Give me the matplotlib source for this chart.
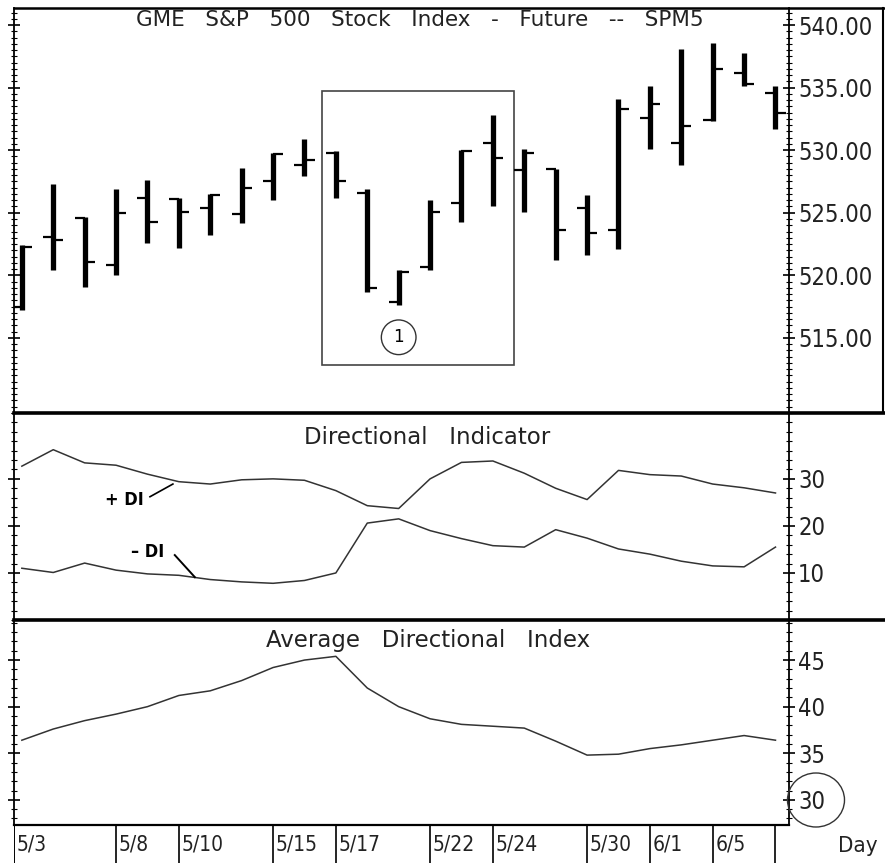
import matplotlib
matplotlib.use("Agg")
import matplotlib.pyplot as plt
from matplotlib.patches import Rectangle, Ellipse
from matplotlib.lines import Line2D
from matplotlib.ticker import MultipleLocator, FormatStrFormatter

# Data
opens = [517.5, 523.1, 524.6, 520.8, 526.2, 526.1, 525.4, 524.9, 527.5, 528.8,
         529.8, 526.6, 517.9, 520.7, 525.8, 530.6, 528.4, 528.5, 525.4, 523.6,
         532.6, 530.6, 532.4, 536.2, 534.6]
highs = [522.4, 527.3, 524.7, 526.9, 527.6, 526.2, 526.5, 528.6, 529.8, 530.9,
         529.9, 526.9, 520.4, 526.0, 530.0, 532.8, 530.1, 528.5, 526.4, 534.1,
         535.1, 538.1, 538.6, 537.8, 535.1]
lows = [517.2, 520.4, 519.05, 520.0, 522.6, 522.2, 523.2, 524.2, 526.0, 527.9,
        526.2, 518.7, 517.6, 520.4, 524.3, 525.5, 525.1, 521.2, 521.6, 522.1,
        530.1, 528.8, 532.3, 535.1, 531.7]
closes = [522.3, 522.8, 521.1, 525.0, 524.3, 525.1, 526.4, 527.0, 529.7, 529.2,
          527.5, 519.0, 520.3, 525.1, 529.9, 529.35, 529.8, 523.6, 523.4, 533.3,
          533.7, 531.9, 536.5, 535.3, 533.0]
plus_di = [32.7, 36.2, 33.4, 32.9, 31.0, 29.4, 28.9, 29.8, 30.0, 29.7,
           27.5, 24.3, 23.7, 30.0, 33.5, 33.8, 31.2, 28.0, 25.6, 31.8,
           30.9, 30.6, 28.9, 28.1, 27.0]
minus_di = [11.0, 10.1, 12.1, 10.6, 9.8, 9.5, 8.6, 8.1, 7.8, 8.4,
            10.0, 20.6, 21.5, 19.0, 17.3, 15.8, 15.5, 19.2, 17.4, 15.1,
            14.0, 12.5, 11.5, 11.3, 15.5]
adx = [36.4, 37.6, 38.5, 39.2, 40.0, 41.2, 41.7, 42.8, 44.2, 45.0,
       45.4, 42.0, 40.0, 38.7, 38.1, 37.9, 37.7, 36.3, 34.8, 34.9,
       35.5, 35.9, 36.4, 36.9, 36.4]
date_labels = ['5/3', '5/8', '5/10', '5/15', '5/17', '5/22', '5/24', '5/30', '6/1', '6/5']
date_pos = [0, 3, 5, 8, 10, 13, 15, 18, 20, 22]

# condensed face for the axis numbers and dates
cond = dict(family='DejaVu Sans', stretch='condensed')
plt.rcParams['font.family'] = ['DejaVu Sans']

W, H = 885, 863
fig = plt.figure(figsize=(8.85, 8.63), dpi=100)


def fx(px):
    return px / W


def fy(py):
    return 1 - py / H


left, right = 14, 789
ax1 = fig.add_axes([fx(left), fy(413), fx(right - left), fy(8) - fy(413)])
ax2 = fig.add_axes([fx(left), fy(620), fx(right - left), fy(413) - fy(620)], sharex=ax1)
ax3 = fig.add_axes([fx(left), fy(825), fx(right - left), fy(620) - fy(825)], sharex=ax1)
ax4 = fig.add_axes([fx(left), fy(863), fx(right - left), fy(825) - fy(863)], sharex=ax1)

x = list(range(len(closes)))
xmin, xmax = -0.25, 24.43

# price bars
ax1.vlines(x, lows, highs, color='black', lw=3.8)
ax1.hlines(opens, [i - 0.32 for i in x], x, color='black', lw=1.6)
ax1.hlines(closes, x, [i + 0.32 for i in x], color='black', lw=1.6)
ax1.set_ylim(509.0, 541.36)
ax1.add_patch(Rectangle((9.55, 512.84), 6.12, 21.89, fill=False, ec='#444444', lw=1.2))
ax1.text(12.0, 515.05, '1', ha='center', va='center', fontsize=12,
         bbox=dict(boxstyle='circle,pad=0.5', fc='white', ec='#333333', lw=1.0))
ax1.text(0.523, 0.970, 'GME   S&P   500   Stock   Index   -   Future   --   SPM5',
         transform=ax1.transAxes, ha='center', va='center', fontsize=15.5, color='#222222')
ax1.set_yticks([515, 520, 525, 530, 535, 540])
ax1.yaxis.set_minor_locator(MultipleLocator(0.5))
ax1.yaxis.set_major_formatter(FormatStrFormatter('%.2f'))

# directional indicator
ax2.plot(x, plus_di, color='#333333', lw=1.1)
ax2.plot(x, minus_di, color='#333333', lw=1.1)
ax2.set_ylim(0, 44)
ax2.text(0.533, 0.884, 'Directional   Indicator', transform=ax2.transAxes,
         ha='center', va='center', fontsize=16.5, color='#222222')
ax2.text(3.28, 25.6, '+ DI', ha='center', va='center', fontsize=13, fontweight='bold', **cond)
ax2.plot([4.08, 4.81], [26.2, 28.9], color='black', lw=1.2)
ax2.text(4.0, 14.5, '\u2013 DI', ha='center', va='center', fontsize=13, fontweight='bold', **cond)
ax2.plot([4.87, 5.51], [13.8, 9.1], color='black', lw=1.4)
ax2.set_yticks([10, 20, 30])
ax2.yaxis.set_minor_locator(MultipleLocator(2))

# average directional index
ax3.plot(x, adx, color='#333333', lw=1.1)
ax3.set_ylim(27.3, 49.3)
ax3.text(0.534, 0.902, 'Average   Directional   Index', transform=ax3.transAxes,
         ha='center', va='center', fontsize=16.5, color='#222222')
ax3.set_yticks([30, 35, 40, 45])
ax3.yaxis.set_minor_locator(MultipleLocator(1))

for ax in (ax1, ax2, ax3):
    ax.set_xlim(xmin, xmax)
    ax.yaxis.tick_right()
    ax.tick_params(axis='y', which='major', direction='inout', length=9, width=1.2,
                   labelsize=17, pad=2, left=True, right=True)
    ax.tick_params(axis='y', which='minor', direction='inout', length=5, width=0.8,
                   left=True, right=True)
    ax.tick_params(axis='x', bottom=False, labelbottom=False)
    for lab in ax.get_yticklabels():
        lab.set_fontstretch('condensed')
        lab.set_color('#222222')
    for s in ax.spines.values():
        s.set_linewidth(1.3)
    ax.spines['top'].set_visible(False)
    ax.spines['bottom'].set_visible(False)

# date row
ax4.set_xlim(xmin, xmax)
ax4.set_ylim(0, 1)
ax4.axis('off')
ax4.vlines(date_pos[1:] + [24], 0, 1, color='black', lw=1.2)
ax4.axvline(xmin, color='black', lw=1.4)
for k, (p, lab) in enumerate(zip(date_pos, date_labels)):
    start = xmin if k == 0 else p
    ax4.text(start + 0.08, 0.5, lab, ha='left', va='center',
             fontsize=15, color='#222222', **cond)

# frame lines
fig.add_artist(Line2D([fx(left), 1.0], [fy(8), fy(8)], color='black', lw=1.8))
fig.add_artist(Line2D([fx(left), 1.0], [fy(413), fy(413)], color='black', lw=2.6))
fig.add_artist(Line2D([fx(left), 1.0], [fy(620), fy(620)], color='black', lw=2.6))
fig.add_artist(Line2D([fx(left), fx(right)], [fy(825), fy(825)], color='black', lw=1.6))
fig.add_artist(Line2D([fx(883), fx(883)], [fy(8), fy(413)], color='black', lw=1.5))
fig.add_artist(Ellipse((fx(816), fy(800)), fx(57), 54 / H, transform=fig.transFigure,
                       fill=False, ec='#333333', lw=1.0))
fig.text(fx(838), fy(846), 'Day', ha='left', va='center', fontsize=16, color='#222222',
         **cond)

fig.savefig('out.png', dpi=100, facecolor='white')
